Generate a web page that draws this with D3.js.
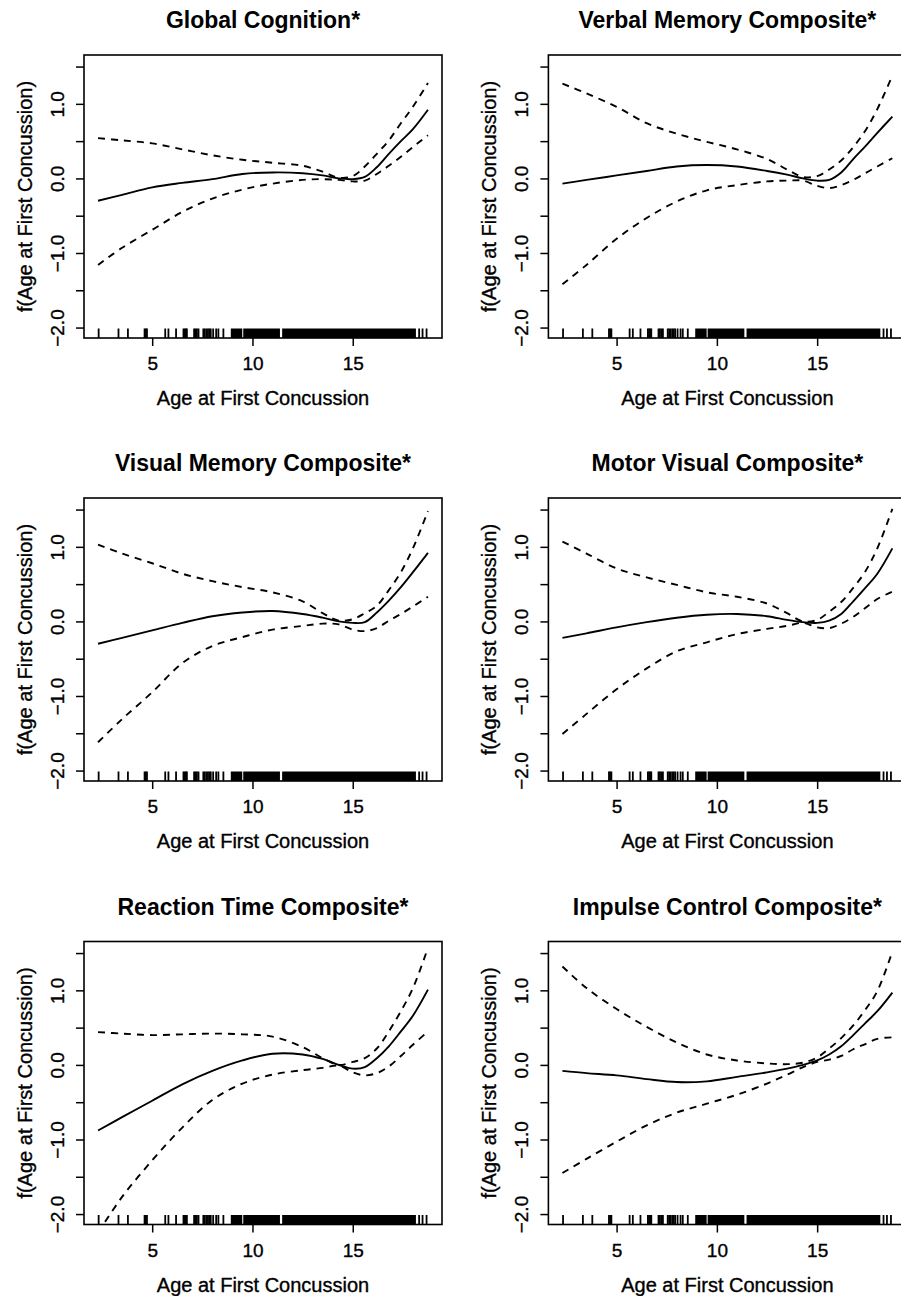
<!DOCTYPE html>
<html>
<head>
<meta charset="utf-8">
<script src="https://cdn.jsdelivr.net/npm/d3@7"></script>
<style>
  body { margin: 0; background: #fff; }
  svg { display: block; font-family: "Liberation Sans", Arial, sans-serif; }
  .plain { stroke: #000; stroke-width: 0.35px; }
</style>
</head>
<body>
<div id="chart"></div>
<script>
// panel titles, in reading order
const titles = [
  'Global Cognition*', 'Verbal Memory Composite*',
  'Visual Memory Composite*', 'Motor Visual Composite*',
  'Reaction Time Composite*', 'Impulse Control Composite*'
];

const ages = [2.3, 3.5, 5, 6.5, 8, 9.5, 11, 12.5, 13.5, 14.3, 15, 15.6, 16.2, 16.8, 17.4, 18, 18.75];

const globalFit   = [-0.30, -0.22, -0.12, -0.06, -0.01, 0.06, 0.08, 0.07, 0.04, 0.00, -0.01, 0.02, 0.15, 0.33, 0.50, 0.66, 0.92];
const globalUpper = [0.54, 0.51, 0.47, 0.39, 0.31, 0.25, 0.21, 0.17, 0.09, 0.01, 0.03, 0.16, 0.33, 0.51, 0.74, 0.96, 1.28];
const globalLower = [-1.16, -0.93, -0.69, -0.45, -0.27, -0.15, -0.07, -0.02, -0.01, -0.02, -0.04, -0.03, 0.06, 0.17, 0.29, 0.42, 0.58];

const verbalFit   = [-0.07, -0.02, 0.04, 0.10, 0.16, 0.18, 0.16, 0.10, 0.05, 0.00, -0.03, -0.02, 0.08, 0.26, 0.43, 0.61, 0.83];
const verbalUpper = [1.27, 1.14, 0.96, 0.74, 0.60, 0.49, 0.39, 0.26, 0.12, 0.02, 0.03, 0.12, 0.24, 0.42, 0.64, 0.93, 1.38];
const verbalLower = [-1.42, -1.16, -0.81, -0.53, -0.31, -0.16, -0.09, -0.04, -0.03, -0.03, -0.10, -0.13, -0.09, -0.02, 0.07, 0.16, 0.27];

const visualFit   = [-0.30, -0.22, -0.12, -0.02, 0.07, 0.12, 0.14, 0.10, 0.05, 0.00, -0.02, -0.01, 0.12, 0.28, 0.46, 0.66, 0.92];
const visualUpper = [1.03, 0.91, 0.78, 0.64, 0.54, 0.46, 0.39, 0.27, 0.11, 0.01, 0.03, 0.11, 0.21, 0.42, 0.66, 0.98, 1.48];
const visualLower = [-1.62, -1.31, -0.95, -0.56, -0.33, -0.21, -0.11, -0.06, -0.03, -0.04, -0.11, -0.13, -0.09, 0.01, 0.10, 0.20, 0.33];

const motorFit   = [-0.22, -0.16, -0.08, -0.01, 0.05, 0.09, 0.10, 0.07, 0.02, -0.01, -0.02, 0.01, 0.10, 0.27, 0.45, 0.64, 0.98];
const motorUpper = [1.07, 0.91, 0.71, 0.59, 0.49, 0.39, 0.33, 0.24, 0.11, 0.00, 0.02, 0.13, 0.26, 0.45, 0.67, 0.98, 1.51];
const motorLower = [-1.51, -1.24, -0.91, -0.63, -0.40, -0.28, -0.17, -0.10, -0.06, -0.02, -0.08, -0.09, -0.03, 0.06, 0.18, 0.30, 0.40];

const reactionFit   = [-0.88, -0.70, -0.48, -0.26, -0.08, 0.06, 0.15, 0.14, 0.08, 0.00, -0.05, -0.03, 0.09, 0.25, 0.45, 0.66, 1.01];
const reactionUpper = [0.44, 0.42, 0.40, 0.41, 0.42, 0.41, 0.38, 0.24, 0.09, 0.00, 0.04, 0.09, 0.22, 0.45, 0.72, 1.03, 1.57];
const reactionLower = [-2.25, -1.77, -1.28, -0.84, -0.47, -0.25, -0.13, -0.07, -0.04, -0.01, -0.10, -0.14, -0.11, -0.02, 0.12, 0.27, 0.45];

const impulseFit   = [-0.08, -0.11, -0.14, -0.19, -0.23, -0.22, -0.16, -0.10, -0.05, 0.00, 0.06, 0.14, 0.25, 0.40, 0.56, 0.72, 0.97];
const impulseUpper = [1.32, 1.03, 0.75, 0.51, 0.30, 0.14, 0.06, 0.02, 0.01, 0.03, 0.10, 0.22, 0.36, 0.53, 0.74, 0.99, 1.52];
const impulseLower = [-1.45, -1.26, -1.03, -0.81, -0.64, -0.52, -0.40, -0.25, -0.13, -0.03, 0.04, 0.07, 0.12, 0.21, 0.28, 0.35, 0.37];

// rug of observed ages: single ticks and the solid runs
const rugTicks = [2.33, 3.32, 3.79, 4.62, 4.68, 4.74, 5.65, 5.81, 6.19, 6.56, 6.62, 6.68, 6.73,
  7.09, 7.16, 7.23, 7.31, 7.55, 7.62, 7.7, 7.78, 7.85, 7.92, 8.04, 8.19, 8.3, 8.55,
  18.31, 18.48, 18.68];
const rugRuns = [[8.92, 9.49], [9.54, 11.37], [11.48, 18.15]];

const xTicks = [5, 10, 15];
const yTicks = [-2, -1.5, -1, -0.5, 0, 0.5, 1, 1.5];

const panels = [
  { fit: globalFit, upper: globalUpper, lower: globalLower },
  { fit: verbalFit, upper: verbalUpper, lower: verbalLower },
  { fit: visualFit, upper: visualUpper, lower: visualLower },
  { fit: motorFit, upper: motorUpper, lower: motorLower },
  { fit: reactionFit, upper: reactionUpper, lower: reactionLower },
  { fit: impulseFit, upper: impulseUpper, lower: impulseLower }
].map((p, i) => ({ ...p, title: titles[i] }));

const width = 901, height = 1296;
const colLeft = [84, 548.4];
const rowTop = [55, 498, 941.5];
const boxW = 358, boxH = 283;

const x = d3.scaleLinear().domain([1.6, 19.45]).range([0, boxW]);
const y = d3.scaleLinear().domain([-2.14, 1.655]).range([boxH, 0]);

const svg = d3.select('#chart').append('svg')
  .attr('width', width)
  .attr('height', height);

const line = d3.line()
  .x(d => x(d[0]))
  .y(d => y(d[1]))
  .curve(d3.curveCatmullRom.alpha(0.5));

const fmt = d => d === Math.round(d) ? (d < 0 ? '\u2212' : '') + Math.abs(d).toFixed(1) : '';

panels.forEach((p, i) => {
  const g = svg.append('g')
    .attr('transform', `translate(${colLeft[i % 2]}, ${rowTop[Math.floor(i / 2)]})`);

  g.append('clipPath').attr('id', `clip${i}`)
    .append('rect').attr('width', boxW).attr('height', boxH);

  // title
  g.append('text')
    .attr('x', boxW / 2).attr('y', -27)
    .attr('text-anchor', 'middle')
    .attr('font-size', 23).attr('font-weight', 'bold')
    .text(p.title);

  // y axis
  const ya = g.append('g').call(d3.axisLeft(y).tickValues(yTicks).tickSize(8).tickFormat(fmt));
  ya.select('.domain').remove();
  ya.selectAll('line').attr('stroke', '#000').attr('stroke-width', 1.5);
  ya.selectAll('text')
    .attr('class', 'plain')
    .attr('x', 0).attr('y', -20).attr('dy', 0)
    .attr('transform', 'rotate(-90)')
    .attr('text-anchor', 'middle')
    .attr('font-size', 19).attr('font-family', null)
    .attr('fill', '#000');

  // x axis
  const xa = g.append('g').attr('transform', `translate(0, ${boxH})`)
    .call(d3.axisBottom(x).tickValues(xTicks).tickSize(8));
  xa.select('.domain').remove();
  xa.selectAll('line').attr('stroke', '#000').attr('stroke-width', 1.5);
  xa.selectAll('text')
    .attr('class', 'plain')
    .attr('y', 32).attr('dy', 0)
    .attr('font-size', 19).attr('font-family', null)
    .attr('fill', '#000');

  // axis titles
  g.append('text')
    .attr('class', 'plain')
    .attr('x', boxW / 2).attr('y', boxH + 67)
    .attr('text-anchor', 'middle')
    .attr('font-size', 20)
    .text('Age at First Concussion');

  g.append('text')
    .attr('class', 'plain')
    .attr('transform', `translate(-52, ${boxH / 2}) rotate(-90)`)
    .attr('text-anchor', 'middle')
    .attr('font-size', 20)
    .text('f(Age at First Concussion)');

  // rug
  const rug = g.append('g');
  rug.selectAll('line')
    .data(rugTicks)
    .enter().append('line')
    .attr('x1', d => x(d)).attr('x2', d => x(d))
    .attr('y1', boxH).attr('y2', boxH - 9.5)
    .attr('stroke', '#000').attr('stroke-width', 1.8);
  rug.selectAll('rect')
    .data(rugRuns)
    .enter().append('rect')
    .attr('x', d => x(d[0])).attr('width', d => x(d[1]) - x(d[0]))
    .attr('y', boxH - 9.5).attr('height', 9.5)
    .attr('fill', '#000');

  // smooth and bands
  const curves = g.append('g').attr('clip-path', `url(#clip${i})`);
  [['fit', null], ['upper', '7,6'], ['lower', '7,6']].forEach(([k, dash]) => {
    curves.append('path')
      .datum(ages.map((a, j) => [a, p[k][j]]))
      .attr('d', line)
      .attr('fill', 'none')
      .attr('stroke', '#000')
      .attr('stroke-width', 1.9)
      .attr('stroke-dasharray', dash);
  });

  // box
  g.append('rect')
    .attr('width', boxW).attr('height', boxH)
    .attr('fill', 'none')
    .attr('stroke', '#000').attr('stroke-width', 1.6);
});
</script>
</body>
</html>
